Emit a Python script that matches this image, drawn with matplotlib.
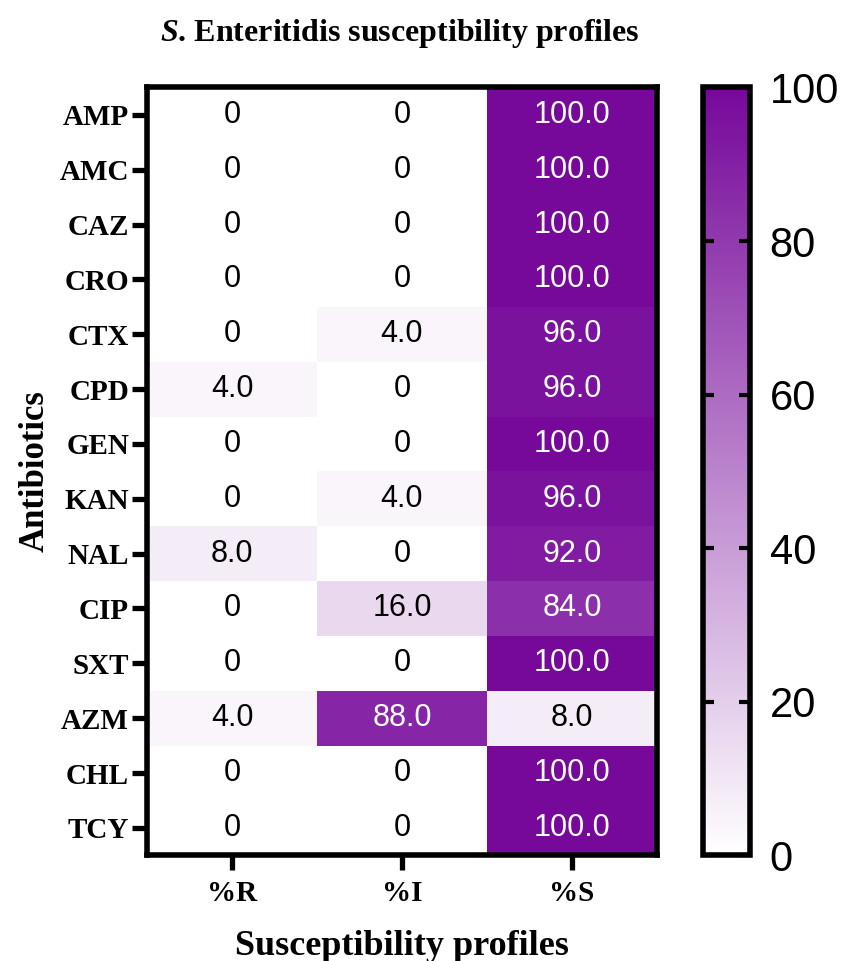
import matplotlib
matplotlib.use('Agg')
import matplotlib.pyplot as plt
import numpy as np
from matplotlib.colors import LinearSegmentedColormap

antibiotics = ['AMP', 'AMC', 'CAZ', 'CRO', 'CTX', 'CPD', 'GEN',
               'KAN', 'NAL', 'CIP', 'SXT', 'AZM', 'CHL', 'TCY']
profiles = ['%R', '%I', '%S']

pct_r = [0, 0, 0, 0, 0, 4.0, 0, 0, 8.0, 0, 0, 4.0, 0, 0]
pct_i = [0, 0, 0, 0, 4.0, 0, 0, 4.0, 0, 16.0, 0, 88.0, 0, 0]
pct_s = [100.0, 100.0, 100.0, 100.0, 96.0, 96.0, 100.0,
         96.0, 92.0, 84.0, 100.0, 8.0, 100.0, 100.0]

plt.rcParams['mathtext.fontset'] = 'custom'
plt.rcParams['mathtext.it'] = 'Liberation Serif:italic:bold'
plt.rcParams['mathtext.rm'] = 'Liberation Serif:bold'

data = np.array([pct_r, pct_i, pct_s]).T
cmap = LinearSegmentedColormap.from_list('purp', ['#ffffff', '#76089a'])

fig = plt.figure(figsize=(8.41, 9.61), dpi=100)
ax = fig.add_axes([0.175, 0.110, 0.606, 0.799])
cax = fig.add_axes([0.836, 0.110, 0.056, 0.799])

mesh = ax.pcolormesh(data, cmap=cmap, vmin=0, vmax=100)
ax.set_xlim(0, 3)
ax.set_ylim(len(antibiotics), 0)

# value labels in each cell
for i in range(len(antibiotics)):
    for j in range(3):
        v = data[i, j]
        txt = '0' if v == 0 else f'{v:.1f}'
        col = 'white' if v > 50 else 'black'
        ax.text(j + 0.5, i + 0.5, txt, ha='center', va='center',
                fontsize=22, color=col, family='Liberation Sans')

ax.set_xticks(np.arange(3) + 0.5)
ax.set_xticklabels(profiles, family='Liberation Serif', fontweight='bold', fontsize=21)
ax.set_yticks(np.arange(len(antibiotics)) + 0.5)
ax.set_yticklabels(antibiotics, family='Liberation Serif', fontweight='bold', fontsize=21)
ax.tick_params(length=11, width=3.8, pad=2)
ax.tick_params(axis='x', pad=7)
for s in ax.spines.values():
    s.set_linewidth(4)

ax.set_xlabel('Susceptibility profiles', family='Liberation Serif',
              fontweight='bold', fontsize=26, labelpad=16)
ax.set_ylabel('Antibiotics', family='Liberation Serif',
              fontweight='bold', fontsize=25, labelpad=6)

fig.text(0.475, 0.965, r'$\mathit{S}$. Enteritidis susceptibility profiles',
         ha='center', va='center', family='Liberation Serif',
         fontweight='bold', fontsize=23)

cb = fig.colorbar(mesh, cax=cax, ticks=[0, 20, 40, 60, 80, 100])
cb.outline.set_linewidth(4)
cax.tick_params(direction='in', length=8, width=3, labelsize=30, pad=14)
for lab in cax.get_yticklabels():
    lab.set_family('Liberation Sans')
cax.tick_params(which='both', left=True, right=True)
cax.tick_params(labelleft=False)

fig.savefig('out.png', dpi=100)
